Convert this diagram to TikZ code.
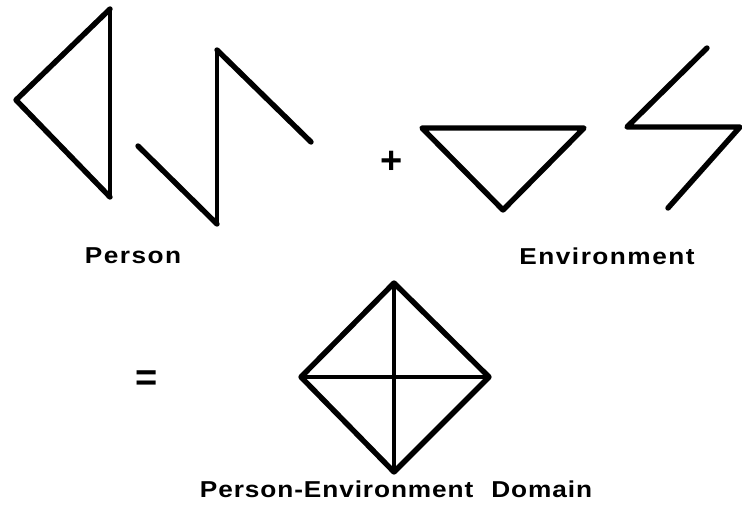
\documentclass[tikz,border=0pt]{standalone}
\usepackage{fontspec}
\newfontfamily\labelfont[FakeStretch=1.14, LetterSpace=6.5]{Liberation Sans}
\newfontfamily\domainfont[FakeStretch=1.14, LetterSpace=4]{Liberation Sans}
\newfontfamily\signfont{Liberation Sans}
\usetikzlibrary{calc}

\tikzset{
  stroke/.style={line width=5.4pt, line join=round, line cap=round},
  thin stroke/.style={line width=3.2pt, line cap=round},
  label text/.style={font=\labelfont\bfseries\fontsize{23}{26}\selectfont, inner sep=0pt},
  domain text/.style={font=\domainfont\bfseries\fontsize{23}{26}\selectfont, inner sep=0pt},
  sign text/.style={font=\signfont\bfseries\fontsize{38}{38}\selectfont, inner sep=0pt}
}

\begin{document}
\begin{tikzpicture}[x=1pt, y=-1pt]

% Background
\useasboundingbox (0,0) rectangle (742,506);
\fill[white] (0,0) rectangle (742,506);

% === PERSON ===
\coordinate (PT) at (110,9);
\coordinate (PL) at (16,100);
\coordinate (PB) at (110,197);
\draw[stroke] (PB) -- (PL) -- (PT);
\draw[thin stroke] (PT) -- (PB);

\coordinate (Z1) at (138,146);
\coordinate (Z2) at (217,224);
\coordinate (Z3) at (217,50);
\coordinate (Z4) at (311,142);
\draw[stroke] (Z1) -- (Z2);
\draw[thin stroke] (Z2) -- (Z3);
\draw[stroke] (Z3) -- (Z4);

\node[label text] (person) at (133,256) {Person};

% === PLUS ===
\node[sign text] (plus) at (392,162) {+};

% === ENVIRONMENT ===
\coordinate (EL) at (422,128);
\coordinate (ER) at (584,128);
\coordinate (EB) at (503,210);
\draw[stroke] (EL) -- (ER) -- (EB) -- cycle;

\coordinate (S1) at (707,48);
\coordinate (S2) at (627,127);
\coordinate (S3) at (740,127);
\coordinate (S4) at (668,208);
\draw[stroke] (S1) -- (S2) -- (S3) -- (S4);

\node[label text] (environment) at (607,256) {Environment};

% === EQUALS ===
\node[sign text] (equals) at (147,381) {=};

% === DOMAIN ===
\coordinate (DT) at (394,283);
\coordinate (DL) at (301,377);
\coordinate (DR) at (489,377);
\coordinate (DB) at (394,472);
\draw[stroke] (DT) -- (DR) -- (DB) -- (DL) -- cycle;
\draw[line width=4pt] (DL) -- (DR);
\draw[thin stroke] (DT) -- (DB);

\node[domain text] (domain) at (396,489) {Person-Environment\hspace{18pt}Domain};

\end{tikzpicture}
\end{document}
